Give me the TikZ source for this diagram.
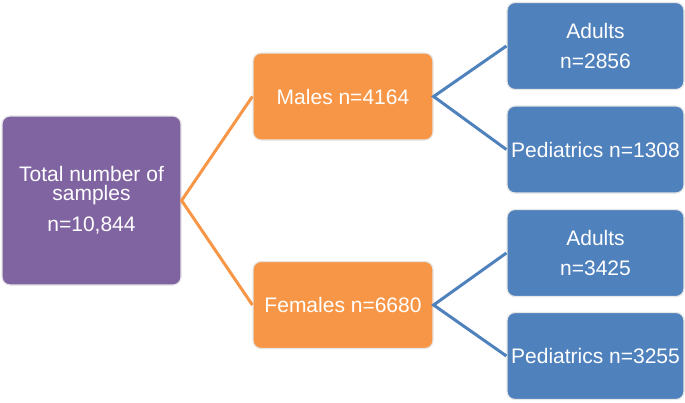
\documentclass[tikz,border=0pt]{standalone}
\usepackage{fontspec}
\setmainfont{Liberation Sans}
\definecolor{cpurple}{HTML}{8064A2}
\definecolor{corange}{HTML}{F79646}
\definecolor{cblue}{HTML}{4F81BD}
\definecolor{cedge}{HTML}{E6E6E6}
\begin{document}
\begin{tikzpicture}[x=1pt,y=-1pt,
  box/.style={rectangle, rounded corners=8pt, draw=cedge, line width=1.2pt,
    text=white, align=center, inner sep=0pt,
    font=\fontsize{21}{19}\selectfont},
  pbox/.style={box, fill=cpurple, minimum width=179pt, minimum height=169pt},
  obox/.style={box, fill=corange, minimum width=180pt, minimum height=87pt},
  bbox/.style={box, fill=cblue, minimum width=177pt, minimum height=87pt},
  oline/.style={draw=corange, line width=3pt},
  bline/.style={draw=cblue, line width=3pt}]
\useasboundingbox (0,0) rectangle (685,402);
\node[pbox] (total) at (91.5,200.5) {Total number of\\samples\\[11pt]n=10,844};
\node[obox] (males) at (343,96.5) {Males n=4164};
\node[obox] (females) at (343,305) {Females n=6680};
\node[bbox] (ad1) at (595.5,46) {Adults\\[11pt]n=2856};
\node[bbox] (pe1) at (595.5,149.5) {Pediatrics n=1308};
\node[bbox] (ad2) at (595.5,253) {Adults\\[11pt]n=3425};
\node[bbox] (pe2) at (595.5,356) {Pediatrics n=3255};
\draw[oline] (males.west) -- (total.east) -- (females.west);
\draw[bline] (ad1.west) -- (males.east) -- (pe1.west);
\draw[bline] (ad2.west) -- (females.east) -- (pe2.west);
\end{tikzpicture}
\end{document}
